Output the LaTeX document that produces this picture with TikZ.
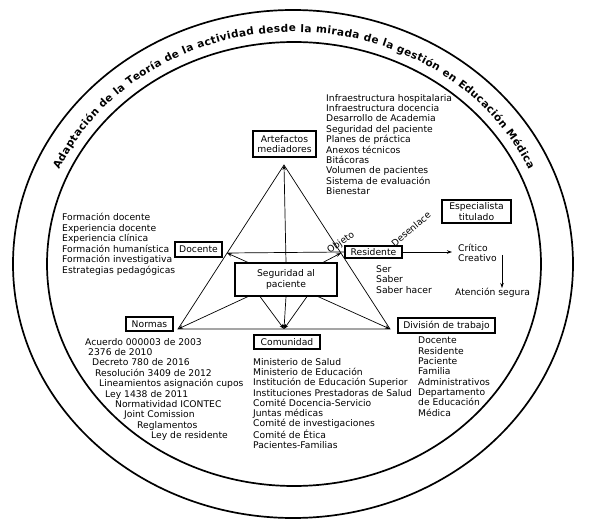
\documentclass[tikz,border=0pt]{standalone}
\usepackage{fontspec}
\setmainfont{DejaVu Sans}
\usetikzlibrary{arrows.meta,decorations.text}
\begin{document}
\begin{tikzpicture}[x=1pt,y=-1pt,
  every node/.style={inner sep=0pt, font=\fontsize{9.2}{10.4}\selectfont},
  box/.style={draw, line width=1.1pt, align=center, inner sep=0pt},
  lst/.style={anchor=north west, align=left},
  ring/.style={line width=1.7pt},
  tri/.style={line width=0.7pt},
  arr/.style={line width=0.7pt, -{Stealth[length=5pt,width=3.5pt]}},
]
\useasboundingbox (0,0) rectangle (589,529);
\draw[ring] (293,264) ellipse [x radius=280, y radius=254];
\draw[ring] (294,264) ellipse [x radius=247, y radius=222];
\path[decorate, decoration={text along path, text align=fit to path,
  text={|\fontsize{10.5}{12}\selectfont\bfseries|Adaptación de la Teoría de la actividad desde la mirada de la gestión en Educación Médica}}]
  (294,264) ++(204:257 and 232) arc [start angle=204, end angle=336, x radius=257, y radius=232];

% triangle
\coordinate (A) at (284,165);
\coordinate (BL) at (178,329);
\coordinate (BR) at (390,329);
\coordinate (BM) at (284,329);
\coordinate (L) at (227,253);
\coordinate (R) at (341,253);
\draw[tri] (A) -- (BL) -- (BR) -- cycle;

% boxes
\node[box, minimum width=63pt, minimum height=26pt] (art) at (284.5,144) {Artefactos\\mediadores};
\node[box, minimum width=47pt, minimum height=15pt] (doc) at (198.5,249.5) {Docente};
\node[box, minimum width=57pt, minimum height=12pt] (res) at (373.5,252) {Residente};
\node[box, fill=white, minimum width=102pt, minimum height=33pt] (seg) at (286,279.5) {Seguridad al\\paciente};
\node[box, minimum width=47pt, minimum height=14pt] (nor) at (149.5,324) {Normas};
\node[box, minimum width=66pt, minimum height=14pt] (com) at (287,342) {Comunidad};
\node[box, minimum width=97pt, minimum height=15pt] (div) at (446.5,325.5) {División de trabajo};
\node[box, minimum width=69pt, minimum height=23pt] (esp) at (476.5,211.5) {Especialista\\titulado};

% lists
\node[lst] (artl) at (326,94) {Infraestructura hospitalaria\\Infraestructura docencia\\Desarrollo de Academia\\Seguridad del paciente\\Planes de práctica\\Anexos técnicos\\Bitácoras\\Volumen de pacientes\\Sistema de evaluación\\Bienestar};
\node[lst, font=\fontsize{9.2}{10.5}\selectfont] (docl) at (62,213) {Formación docente\\Experiencia docente\\Experiencia clínica\\Formación humanística\\Formación investigativa\\Estrategias pedagógicas};
\node[lst] (norl) at (85,338) {Acuerdo 000003 de 2003\\\hspace*{3pt}2376 de 2010\\\hspace*{7pt}Decreto 780 de 2016\\\hspace*{10pt}Resolución 3409 de 2012\\\hspace*{14pt}Lineamientos asignación cupos\\\hspace*{20pt}Ley 1438 de 2011\\\hspace*{30pt}Normatividad ICONTEC\\\hspace*{39pt}Joint Comission\\\hspace*{52pt}Reglamentos\\\hspace*{66pt}Ley de residente};
\node[lst, font=\fontsize{9.2}{10.3}\selectfont] (coml) at (253,358) {Ministerio de Salud\\Ministerio de Educación\\Institución de Educación Superior\\Instituciones Prestadoras de Salud\\Comité Docencia-Servicio\\Juntas médicas\\Comité de investigaciones\\Comité de Ética\\Pacientes-Familias};
\node[lst, font=\fontsize{9.2}{10.3}\selectfont] (divl) at (418,337) {Docente\\Residente\\Paciente\\Familia\\Administrativos\\Departamento\\de Educación\\Médica};
\node[lst, font=\fontsize{9.2}{10.5}\selectfont] (ser) at (376,265) {Ser\\Saber\\Saber hacer};
\node[lst, font=\fontsize{9.2}{10}\selectfont] (crit) at (458,244) {Crítico\\Creativo};
\node[lst] (aten) at (455,288) {Atención segura};
\node[rotate=35] (obj) at (341,243) {Objeto};
\node[rotate=40] (des) at (411,229) {Desenlace};

% connectors
\draw[tri] (L) -- (res.west);
\draw[arr] (seg.north) -- (A);
\draw[arr] (seg.south) -- (BM);
\draw[arr] ([xshift=-38pt]seg.north) -- (L);
\draw[arr] ([xshift=37pt]seg.north) -- (R);
\draw[arr] ([xshift=-38pt]seg.south) -- (BL);
\draw[arr] ([xshift=-26pt]seg.south) -- (BM);
\draw[arr] ([xshift=21pt]seg.south) -- (BM);
\draw[arr] ([xshift=32pt]seg.south) -- (BR);
\path (crit.west |- res.east) coordinate (ca0);
\draw[arr] (res.east) -- ([xshift=-6pt]ca0);
\coordinate (d1) at (502,255);
\coordinate (d2) at (502,288);
\draw[arr] (d1) -- (d2);
\end{tikzpicture}
\end{document}
